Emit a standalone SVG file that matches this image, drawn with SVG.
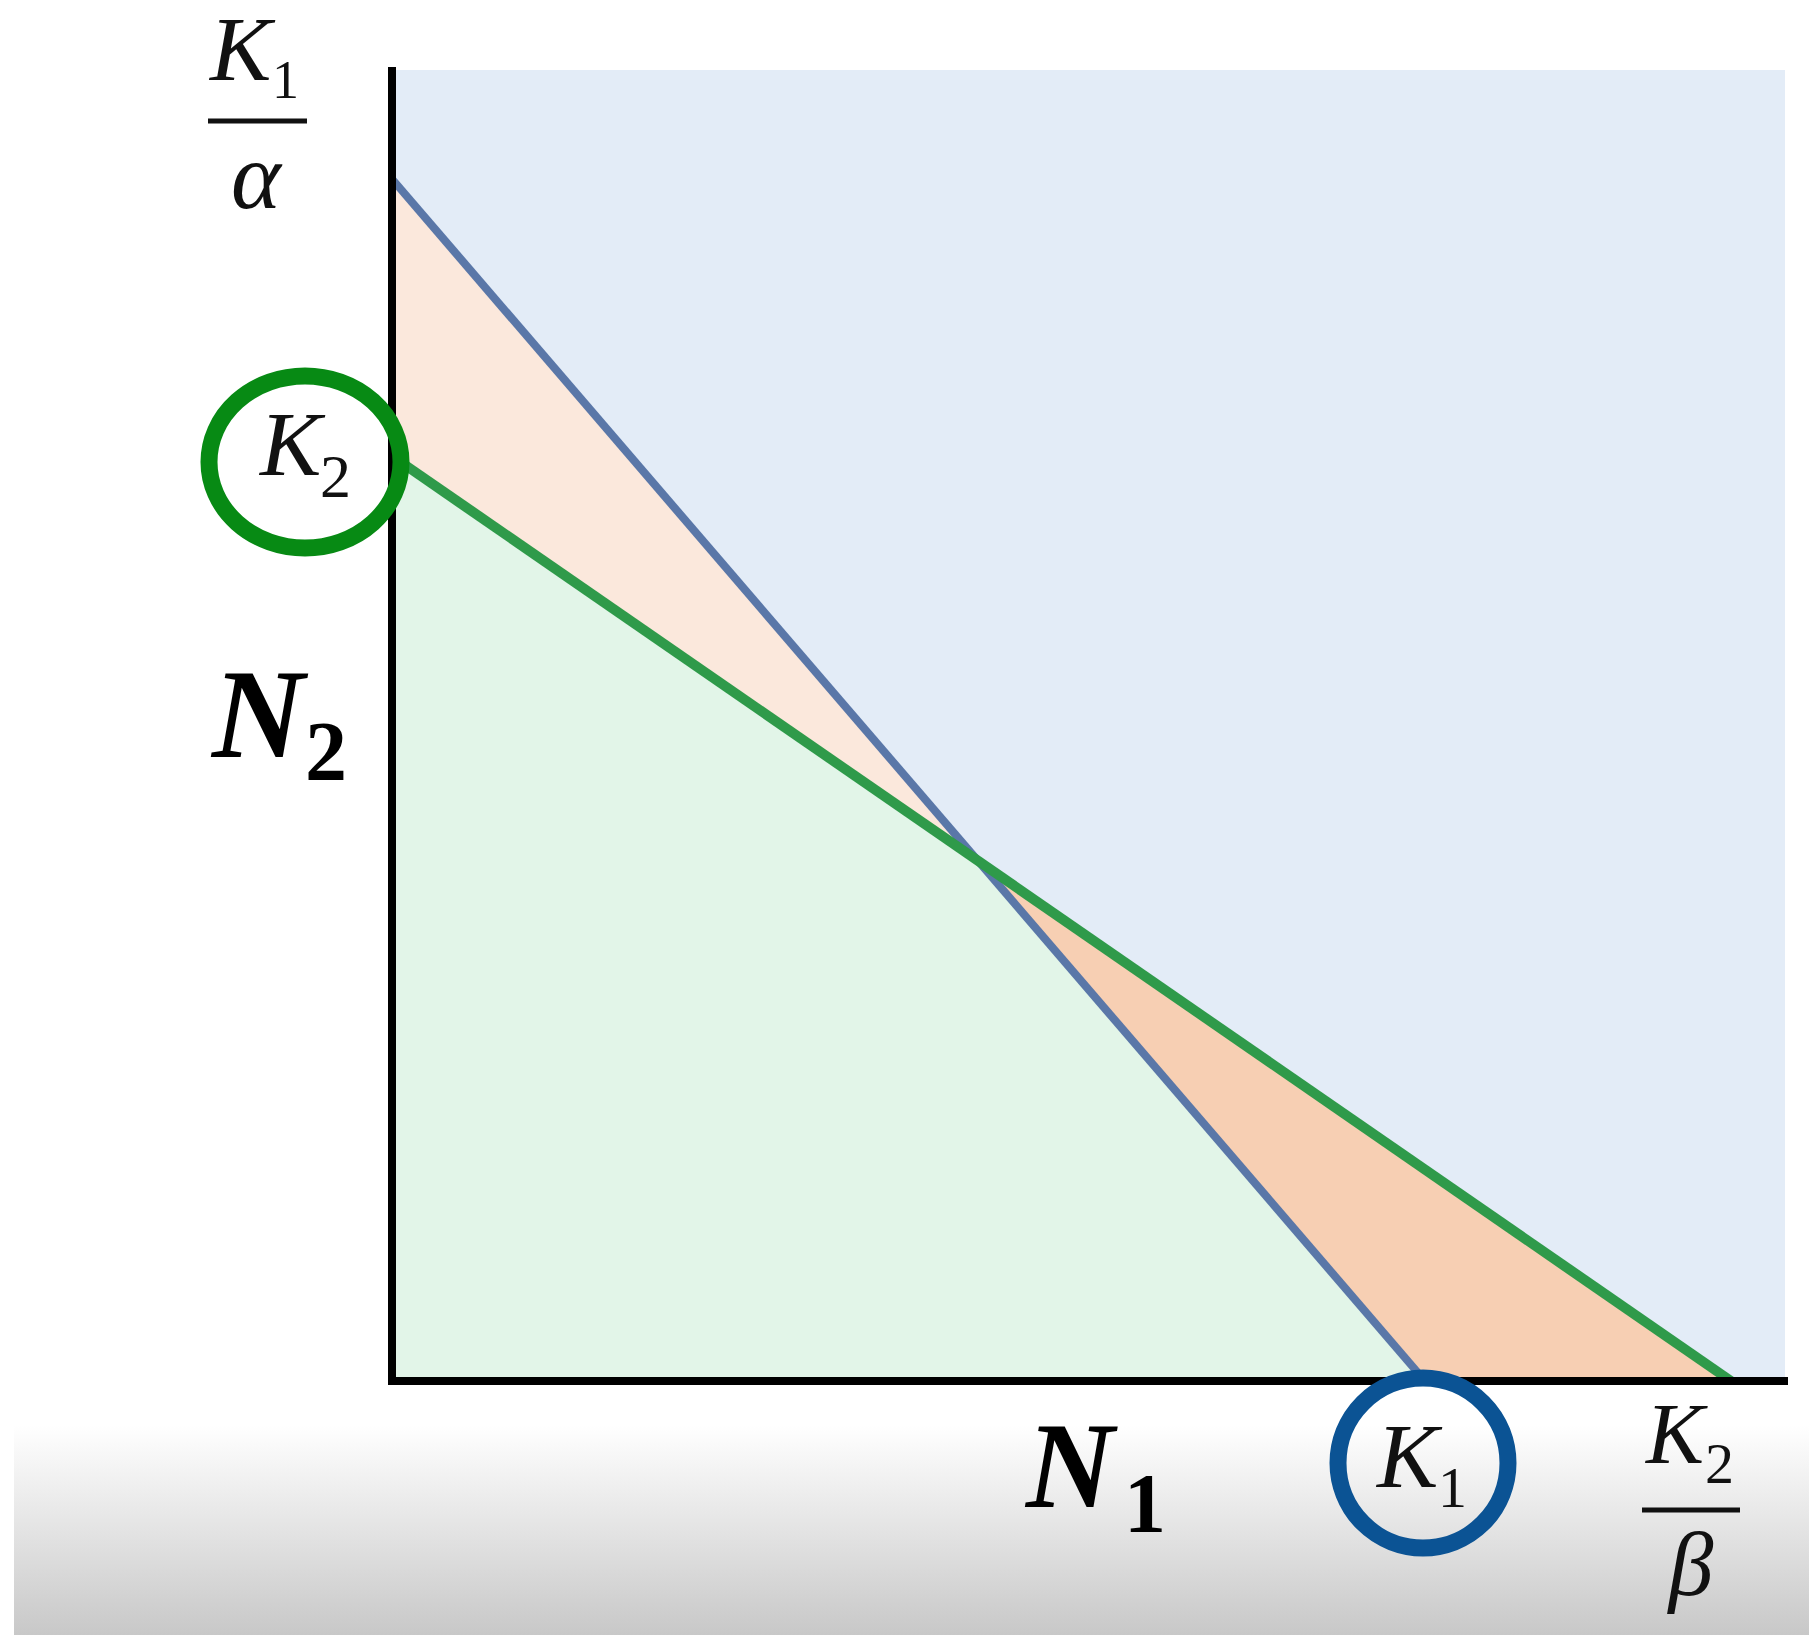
<svg xmlns="http://www.w3.org/2000/svg" width="1809" height="1635" viewBox="0 0 1809 1635">
<defs>
<linearGradient id="floor" x1="0" y1="0" x2="0" y2="1">
<stop offset="0" stop-color="#ffffff"/>
<stop offset="1" stop-color="#c8c8c8"/>
</linearGradient>
</defs>
<style>
.m{font-family:"Liberation Serif","DejaVu Serif",serif;font-style:italic;fill:#111}
.d{font-family:"Liberation Serif","DejaVu Serif",serif;font-style:normal;fill:#111}
.b{font-family:"Liberation Serif","DejaVu Serif",serif;font-style:italic;font-weight:bold;fill:#000}
.bd{font-family:"Liberation Serif","DejaVu Serif",serif;font-style:normal;font-weight:bold;fill:#000}
.axis{stroke:#000;stroke-width:8;fill:none}
.bar{stroke:#111;stroke-width:5}
</style>
<rect width="1809" height="1635" fill="#ffffff"/>
<rect x="14" y="1425" width="1795" height="210" fill="url(#floor)"/>
<g id="regions">
<rect x="392" y="70" width="1393" height="1311" fill="#e3ecf7"/>
<polygon points="392,179 392,456 986,866" fill="#fbe8dc"/>
<polygon points="392,456 986,866 1425,1381 392,1381" fill="#e2f5e8"/>
<polygon points="986,866 1731,1381 1425,1381" fill="#f7cfb3"/>
</g>
<g id="connectors">
<line x1="392" y1="179" x2="1425" y2="1381" stroke="#5a77a8" stroke-width="8"/>
<line x1="392" y1="456" x2="1731" y2="1381" stroke="#2f9a4a" stroke-width="10"/>
<line class="axis" x1="392" y1="67" x2="392" y2="1385"/>
<line class="axis" x1="388" y1="1381" x2="1788" y2="1381"/>
</g>
<g id="label-K1-alpha">
<text class="m" x="210" y="80" font-size="92">K</text>
<text class="d" x="272" y="98" font-size="54">1</text>
<line class="bar" x1="208" y1="121" x2="307" y2="121"/>
<text class="m" x="256" y="208" font-size="95" text-anchor="middle">α</text>
</g>
<g id="label-K2-circled">
<ellipse cx="305" cy="462" rx="96" ry="86" fill="none" stroke="#078a14" stroke-width="17"/>
<text class="m" x="260" y="475" font-size="92">K</text>
<text class="d" x="320" y="497" font-size="62">2</text>
</g>
<g id="label-N2">
<text class="b" x="212" y="757" font-size="128">N</text>
<text class="bd" x="305" y="780" font-size="84">2</text>
</g>
<g id="label-N1">
<text class="b" x="1026" y="1507" font-size="122">N</text>
<text class="bd" x="1124" y="1532" font-size="84">1</text>
</g>
<g id="label-K1-circled">
<circle cx="1423" cy="1463" r="85" fill="none" stroke="#0b5394" stroke-width="17"/>
<text class="m" x="1377" y="1487" font-size="92">K</text>
<text class="d" x="1438" y="1507" font-size="58">1</text>
</g>
<g id="label-K2-beta">
<text class="m" x="1646" y="1463" font-size="87">K</text>
<text class="d" x="1705" y="1483" font-size="58">2</text>
<line class="bar" x1="1642" y1="1510" x2="1740" y2="1510"/>
<text class="m" x="1691" y="1595" font-size="90" text-anchor="middle">β</text>
</g>
</svg>
